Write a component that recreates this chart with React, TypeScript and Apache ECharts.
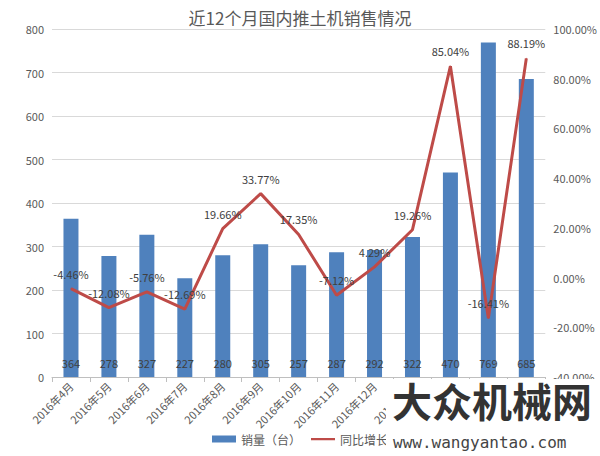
import React, { useEffect, useRef } from "react";
import * as echarts from "echarts";

const categories = [
  "2016年4月", "2016年5月", "2016年6月", "2016年7月", "2016年8月", "2016年9月",
  "2016年10月", "2016年11月", "2016年12月", "2017年1月", "2017年2月", "2017年3月", "2017年4月",
];
const salesValues = [364, 278, 327, 227, 280, 305, 257, 287, 292, 322, 470, 769, 685];
const growthValues = [-4.46, -12.08, -5.76, -12.69, 19.66, 33.77, 17.35, -7.12, 4.29, 19.26, 85.04, -16.41, 88.19];

const FONT = "'Noto Sans CJK SC', 'Noto Sans', sans-serif";

export default function App() {
  const ref = useRef<HTMLDivElement>(null);
  useEffect(() => {
    if (!ref.current) return;
    const chart = echarts.init(ref.current, undefined, { renderer: "svg" });
    chart.setOption({
      animation: false,
      backgroundColor: "#ffffff",
      textStyle: { fontFamily: FONT },
      title: {
        text: "近12个月国内推土机销售情况",
        left: "center",
        top: 4,
        textStyle: { fontSize: 17, color: "#595959", fontWeight: "normal", fontFamily: FONT },
      },
      legend: {
        bottom: 6,
        left: "center",
        itemWidth: 24,
        itemHeight: 7,
        itemGap: 10,
        textStyle: { color: "#595959", fontSize: 12, fontFamily: FONT },
        data: [
          { name: "销量（台）", icon: "rect" },
          { name: "同比增长", icon: "path://M0,0h0.01v7h-0.01z M0,2.5h24v2.2H0z" },
        ],
      },
      grid: { left: 52, right: 54, top: 29, bottom: 79, containLabel: false },
      xAxis: {
        type: "category",
        data: categories,
        axisLine: { lineStyle: { color: "#BFBFBF" } },
        axisTick: { show: true, length: 5, lineStyle: { color: "#BFBFBF" } },
        axisLabel: { interval: 0, rotate: 45, color: "#595959", fontSize: 11, margin: 7, fontFamily: FONT },
      },
      yAxis: [
        {
          type: "value",
          min: 0,
          max: 800,
          interval: 100,
          axisLine: { show: false },
          axisTick: { show: false },
          splitLine: { lineStyle: { color: "#D9D9D9" } },
          axisLabel: { color: "#595959", fontSize: 11, margin: 8, fontFamily: FONT },
        },
        {
          type: "value",
          min: -40,
          max: 100,
          interval: 20,
          position: "right",
          axisLine: { show: false },
          axisTick: { show: false },
          splitLine: { show: false },
          axisLabel: {
            color: "#595959",
            fontSize: 11,
            margin: 8,
            fontFamily: FONT,
            formatter: (v: number) => v.toFixed(2) + "%",
          },
        },
      ],
      series: [
        {
          name: "销量（台）",
          type: "bar",
          data: salesValues,
          barWidth: 15,
          itemStyle: { color: "#4F81BD" },
          label: {
            show: true,
            position: "insideBottom",
            distance: 9,
            color: "#404040",
            fontSize: 11,
            fontFamily: FONT,
          },
        },
        {
          name: "同比增长",
          type: "line",
          yAxisIndex: 1,
          data: growthValues,
          symbol: "circle",
          symbolSize: 1,
          itemStyle: { color: "#BE4B48" },
          lineStyle: { color: "#BE4B48", width: 3 },
          label: {
            show: true,
            position: "top",
            distance: 9,
            color: "#404040",
            fontSize: 11,
            fontFamily: FONT,
            formatter: (p: any) => Number(p.value).toFixed(2) + "%",
          },
          z: 3,
        },
      ],
      graphic: [
        {
          type: "rect",
          z: 100,
          shape: { x: 386, y: 379, width: 214, height: 77 },
          style: { fill: "#ffffff" },
        },
        {
          type: "text",
          z: 101,
          x: 392,
          y: 380,
          style: {
            text: "大众机械网",
            fill: "#333333",
            font: "bold 40px 'Noto Sans CJK SC', sans-serif",
          },
        },
        {
          type: "text",
          z: 101,
          x: 393,
          y: 434,
          style: {
            text: "www.wangyantao.com",
            fill: "#444444",
            font: "16px 'DejaVu Sans Mono', monospace",
          },
        },
      ],
    });
    return () => chart.dispose();
  }, []);
  return (
    <div
      ref={ref}
      style={{ position: "absolute", left: 0, top: 0, width: 600, height: 456 }}
    />
  );
}
